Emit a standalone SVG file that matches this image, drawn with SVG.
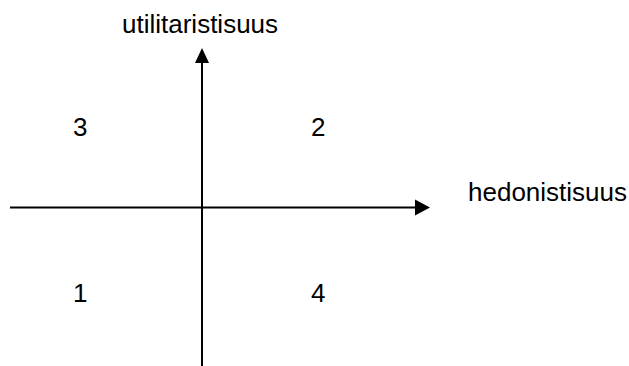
<svg xmlns="http://www.w3.org/2000/svg" width="629" height="366" viewBox="0 0 629 366">
<style>
text{font-family:"Liberation Sans",Arial,sans-serif;font-size:26px;fill:#000}
.ax{stroke:#000;stroke-width:2;fill:none}
</style>
<rect width="629" height="366" fill="#fff"/>
<g id="connectors">
<line class="ax" x1="10" y1="207.5" x2="416" y2="207.5"/>
<polygon points="430,207.5 415,199.5 415,215.5" fill="#000"/>
<line class="ax" x1="202" y1="62" x2="202" y2="366"/>
<polygon points="202,48 195,63 209,63" fill="#000"/>
</g>
<g id="label-y"><text x="122" y="33">utilitaristisuus</text></g>
<g id="label-x"><text x="468" y="201">hedonistisuus</text></g>
<g id="q3"><text x="73" y="136">3</text></g>
<g id="q2"><text x="311" y="136">2</text></g>
<g id="q1"><text x="73" y="302">1</text></g>
<g id="q4"><text x="311" y="302">4</text></g>
</svg>
